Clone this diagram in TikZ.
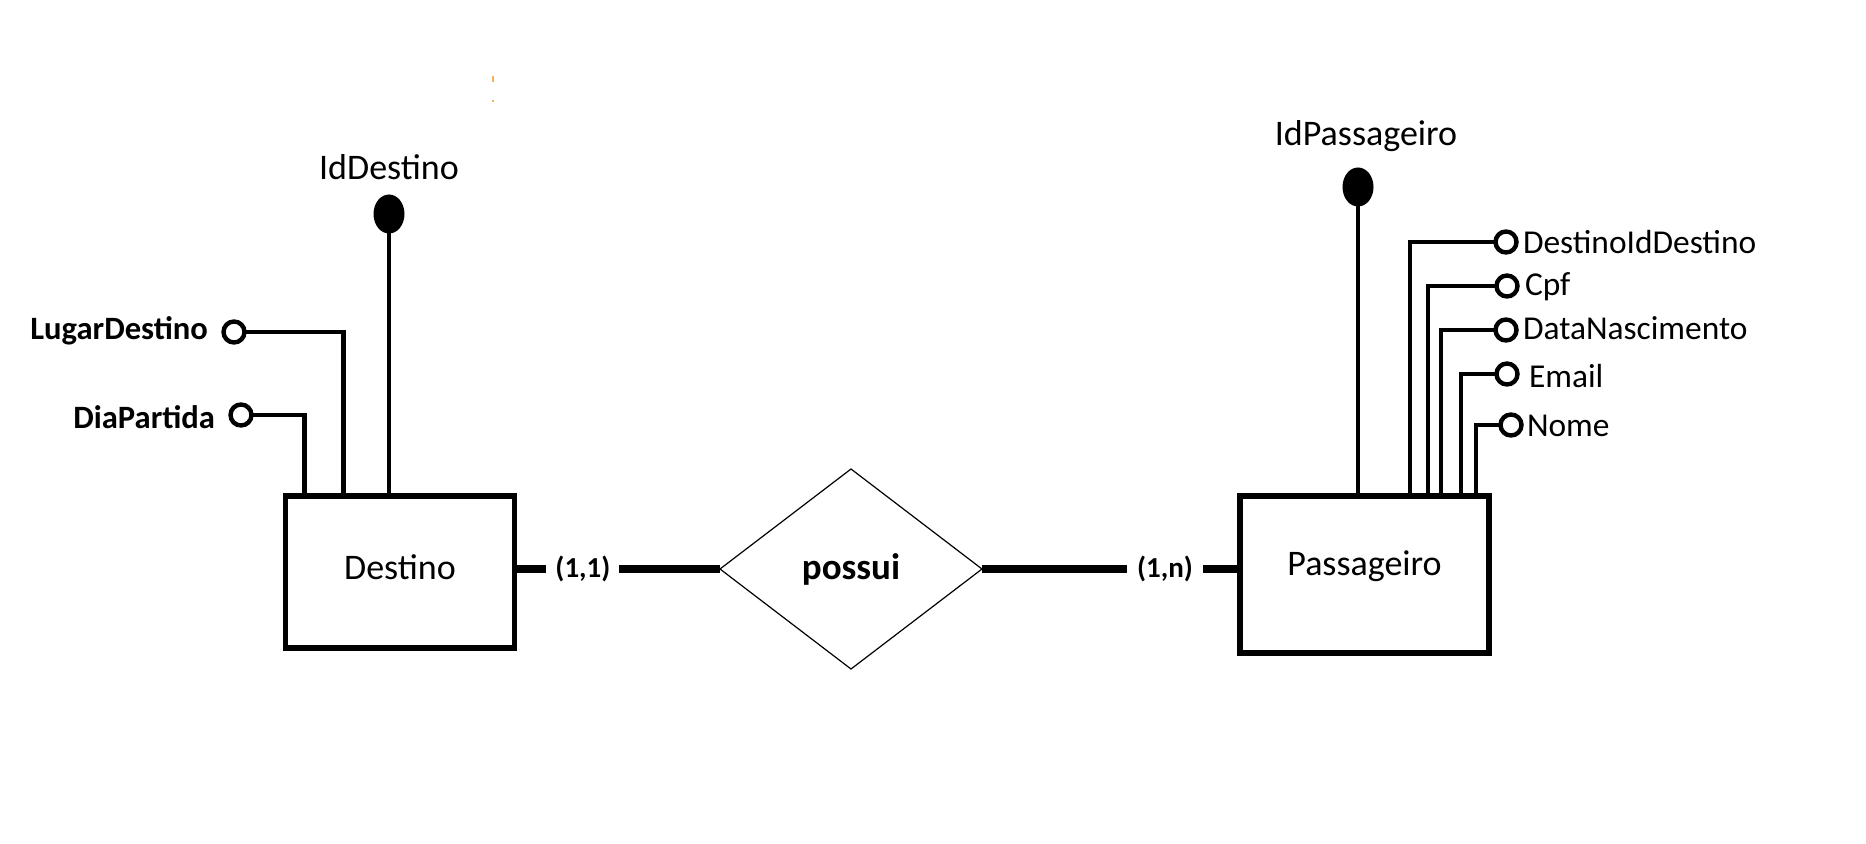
\documentclass[tikz,border=0pt]{standalone}
\usepackage{fontspec}
\setmainfont{Carlito}
\usetikzlibrary{shapes.geometric,calc}
\definecolor{marca}{HTML}{F7AE5F}

\begin{document}
\begin{tikzpicture}[x=0.5pt,y=0.5pt]
    \tikzstyle{every node}+=[inner sep=0pt, outer sep=0pt]
    \tikzstyle{entidade}=[draw, line width=2.6pt, font=\fontsize{18}{20}\selectfont]
    \tikzstyle{relacao}=[draw, diamond, line width=0.6pt, minimum width=131pt, minimum height=100pt, font=\fontsize{18.5}{21}\selectfont\bfseries]
    \tikzstyle{atrib}=[draw, circle, line width=2.2pt, minimum size=10.5pt]
    \tikzstyle{chave}=[fill, ellipse, minimum width=15.5pt, minimum height=19.5pt]
    \tikzstyle{liga}=[line width=2.4pt]
    \tikzstyle{relliga}=[line width=3.8pt]
    \tikzstyle{card}=[fill=white, inner xsep=4.5pt, font=\fontsize{14.5}{16}\selectfont\bfseries]
    \tikzstyle{rotulo}=[font=\fontsize{18}{20}\selectfont]
    \tikzstyle{rotuloesq}=[font=\fontsize{16.3}{18}\selectfont\bfseries]
    \tikzstyle{rotulodir}=[font=\fontsize{16.7}{18}\selectfont]
    \useasboundingbox (0,0) rectangle (1866,-844);
    \fill [marca] (492,-76) rectangle (494,-82);
    \fill [marca] (492,-100) rectangle (494,-102);
    \node [entidade, minimum width=114.5pt, minimum height=76pt, text depth=5pt] (destino) at (400,-572) {Destino};
    \node [entidade, minimum width=124.5pt, minimum height=78.5pt, text depth=11pt] (passageiro) at (1364.5,-574.5) {Passageiro};
    \node [relacao] (possui) at (851,-569) {possui};
    \draw [relliga] (possui.west) -- node [card, pos=0.667] (card1) {(1,1)} (possui.west -| destino.east);
    \draw [relliga, line width=4.2pt] (possui.east) -- node [card, inner xsep=5pt, pos=0.709] (card2) {(1,n)} (possui.east -| passageiro.west);
    \node [chave] (idDestino) at (389,-214) {};
    \node [rotulo, anchor=base] (idDestinoT) at (389,-180) {IdDestino};
    \draw [liga] (idDestino) -- (idDestino |- destino.north);
    \node [atrib] (lugarDestino) at (234,-332) {};
    \node [rotuloesq, anchor=base east] (lugarDestinoT) at (208,-340) {LugarDestino};
    \draw [liga] (lugarDestino) -| ($(destino.north west)+(58,0)$);
    \node [atrib] (diaPartida) at (241,-415) {};
    \node [rotuloesq, anchor=base east] (diaPartidaT) at (215,-428) {DiaPartida};
    \draw [liga] (diaPartida) -| ($(destino.north west)+(19,0)$);
    \node [chave] (idPassageiro) at (1358,-187) {};
    \node [rotulo, anchor=base] (idPassageiroT) at (1366,-146) {IdPassageiro};
    \draw [liga] (idPassageiro) -- (idPassageiro |- passageiro.north);
    \node [atrib] (destinoIdDestino) at (1506,-242) {};
    \node [rotulodir, anchor=base west] (destinoIdDestinoT) at (1523,-254) {DestinoIdDestino};
    \draw [liga] (destinoIdDestino) -| ($(passageiro.north west)+(170,0)$);
    \node [atrib] (cpf) at (1507,-286) {};
    \node [rotulodir, anchor=base west] (cpfT) at (1525,-296) {Cpf};
    \draw [liga] (cpf) -| ($(passageiro.north west)+(188,0)$);
    \node [atrib] (dataNascimento) at (1506,-330) {};
    \node [rotulodir, anchor=base west] (dataNascimentoT) at (1523,-340) {DataNascimento};
    \draw [liga] (dataNascimento) -| ($(passageiro.north west)+(201,0)$);
    \node [atrib] (email) at (1507,-374) {};
    \node [rotulodir, anchor=base west] (emailT) at (1529,-387) {Email};
    \draw [liga] (email) -| ($(passageiro.north west)+(221,0)$);
    \node [atrib] (nome) at (1511,-425) {};
    \node [rotulodir, anchor=base west] (nomeT) at (1527,-436) {Nome};
    \draw [liga] (nome) -| ($(passageiro.north west)+(236,0)$);
\end{tikzpicture}
\end{document}
